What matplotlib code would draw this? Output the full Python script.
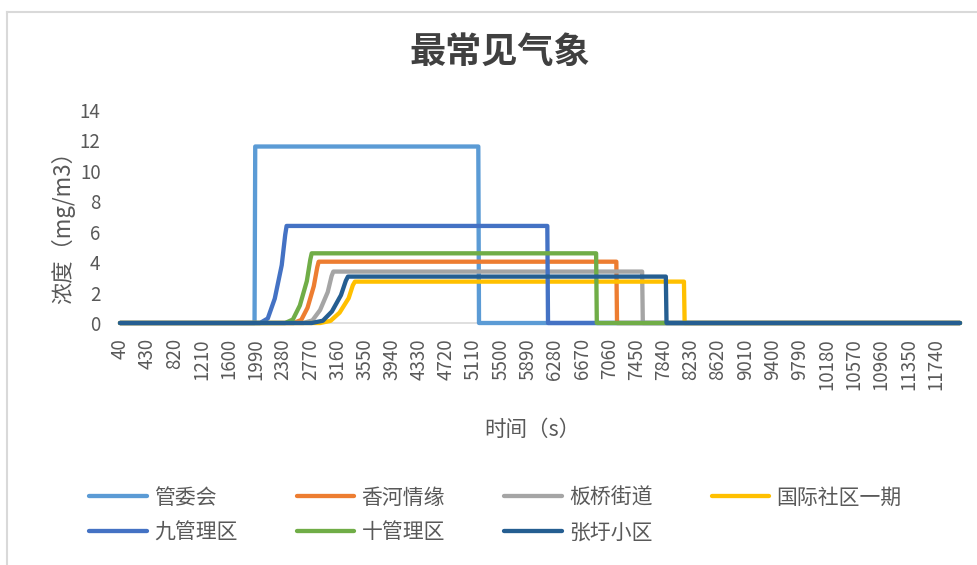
import numpy as np
import matplotlib.pyplot as plt
from matplotlib.lines import Line2D

plt.rcParams['font.family'] = ['Noto Sans CJK SC', 'DejaVu Sans']

TEXT = "#595959"
GRID = "#D9D9D9"

# 各监测点浓度随时间的关键转折点：时间 (s) / 浓度 (mg/m3)
t_gwh = [40, 1970, 1980, 5180, 5190, 12090]
c_gwh = [0, 0, 11.6, 11.6, 0, 0]

t_xh = [40, 2530, 2640, 2730, 2820, 2870, 2890, 7160, 7170, 12090]
c_xh = [0, 0, 0.2, 1.0, 2.42, 3.67, 4.03, 4.03, 0, 0]

t_bq = [40, 2670, 2800, 2910, 3020, 3075, 3100, 7530, 7540, 12090]
c_bq = [0, 0, 0.17, 0.85, 2.03, 3.08, 3.38, 3.38, 0, 0]

t_gj = [40, 2910, 3060, 3190, 3320, 3380, 3410, 8130, 8140, 12090]
c_gj = [0, 0, 0.14, 0.68, 1.63, 2.48, 2.72, 2.72, 0, 0]

t_j9 = [40, 2050, 2160, 2260, 2360, 2410, 2430, 6170, 6180, 12090]
c_j9 = [0, 0, 0.3, 1.6, 3.8, 5.8, 6.38, 6.38, 0, 0]

t_s10 = [40, 2410, 2520, 2620, 2720, 2770, 2790, 6870, 6880, 12090]
c_s10 = [0, 0, 0.23, 1.15, 2.75, 4.17, 4.58, 4.58, 0, 0]

t_zw = [40, 2790, 2950, 3080, 3210, 3280, 3310, 7870, 7880, 12090]
c_zw = [0, 0, 0.15, 0.76, 1.83, 2.78, 3.05, 3.05, 0, 0]

names = ["管委会", "香河情缘", "板桥街道", "国际社区一期", "九管理区", "十管理区", "张圩小区"]
colors = ["#5B9BD5", "#ED7D31", "#A5A5A5", "#FFC000", "#4472C4", "#70AD47", "#255E91"]
series = [(t_gwh, c_gwh), (t_xh, c_xh), (t_bq, c_bq), (t_gj, c_gj),
          (t_j9, c_j9), (t_s10, c_s10), (t_zw, c_zw)]

x_ticks = np.arange(40, 11741, 390)
y_ticks = [0, 2, 4, 6, 8, 10, 12, 14]

fig = plt.figure(figsize=(9.77, 5.65), dpi=100)
ax = fig.add_axes([120 / 977, 1 - 323 / 565, 840 / 977, 213 / 565])

lines = []
for (t, c), name, col in zip(series, names, colors):
    ln, = ax.plot(t, c, color=col, lw=3.1, label=name,
                  solid_joinstyle="round", solid_capstyle="round", clip_on=False)
    lines.append(ln)

ax.set_xlim(40, 12090)
ax.set_ylim(0, 14)
ax.set_xticks(x_ticks)
ax.set_xticklabels([str(v) for v in x_ticks], rotation=90, fontsize=13.5, color=TEXT)
ax.set_yticks(y_ticks)
ax.set_yticklabels([str(v) for v in y_ticks], fontsize=13.5, color=TEXT)
ax.tick_params(axis="x", length=0, pad=11)
ax.tick_params(axis="y", length=0, pad=14)

for side in ["top", "right", "left"]:
    ax.spines[side].set_visible(False)
ax.spines["bottom"].set_color(GRID)
ax.spines["bottom"].set_linewidth(1.2)
ax.spines["bottom"].set_zorder(0)

fig.text(500 / 977, 1 - 52 / 565, "最常见气象", ha="center", va="center",
         fontsize=26, fontweight="bold", color="#404040")
fig.text(532 / 977, 1 - 430 / 565, "时间（s）", ha="center", va="center",
         fontsize=15.5, color=TEXT)
fig.text(63 / 977, 1 - 222 / 565, "浓度（mg/m3）", ha="center", va="center",
         rotation=90, fontsize=16, color=TEXT)

# 图例按行排列：matplotlib 按列填充，所以先重排
order = [0, 4, 1, 5, 2, 6, 3]
leg = fig.legend([lines[i] for i in order], [names[i] for i in order],
                 loc="center left", bbox_to_anchor=(79 / 977, 1 - 515 / 565),
                 ncol=4, frameon=False, fontsize=15, borderpad=0,
                 handlelength=2.75, handletextpad=0.35, columnspacing=2.85,
                 labelspacing=0.6)
for txt in leg.get_texts():
    txt.set_color(TEXT)

# 图表区外框
fig.add_artist(Line2D([7 / 977, 7 / 977], [0, 1 - 12 / 565], color=GRID, lw=1.5,
                      transform=fig.transFigure))
fig.add_artist(Line2D([7 / 977, 1], [1 - 12 / 565, 1 - 12 / 565], color=GRID, lw=1.5,
                      transform=fig.transFigure))

fig.savefig("out.png", dpi=100)
